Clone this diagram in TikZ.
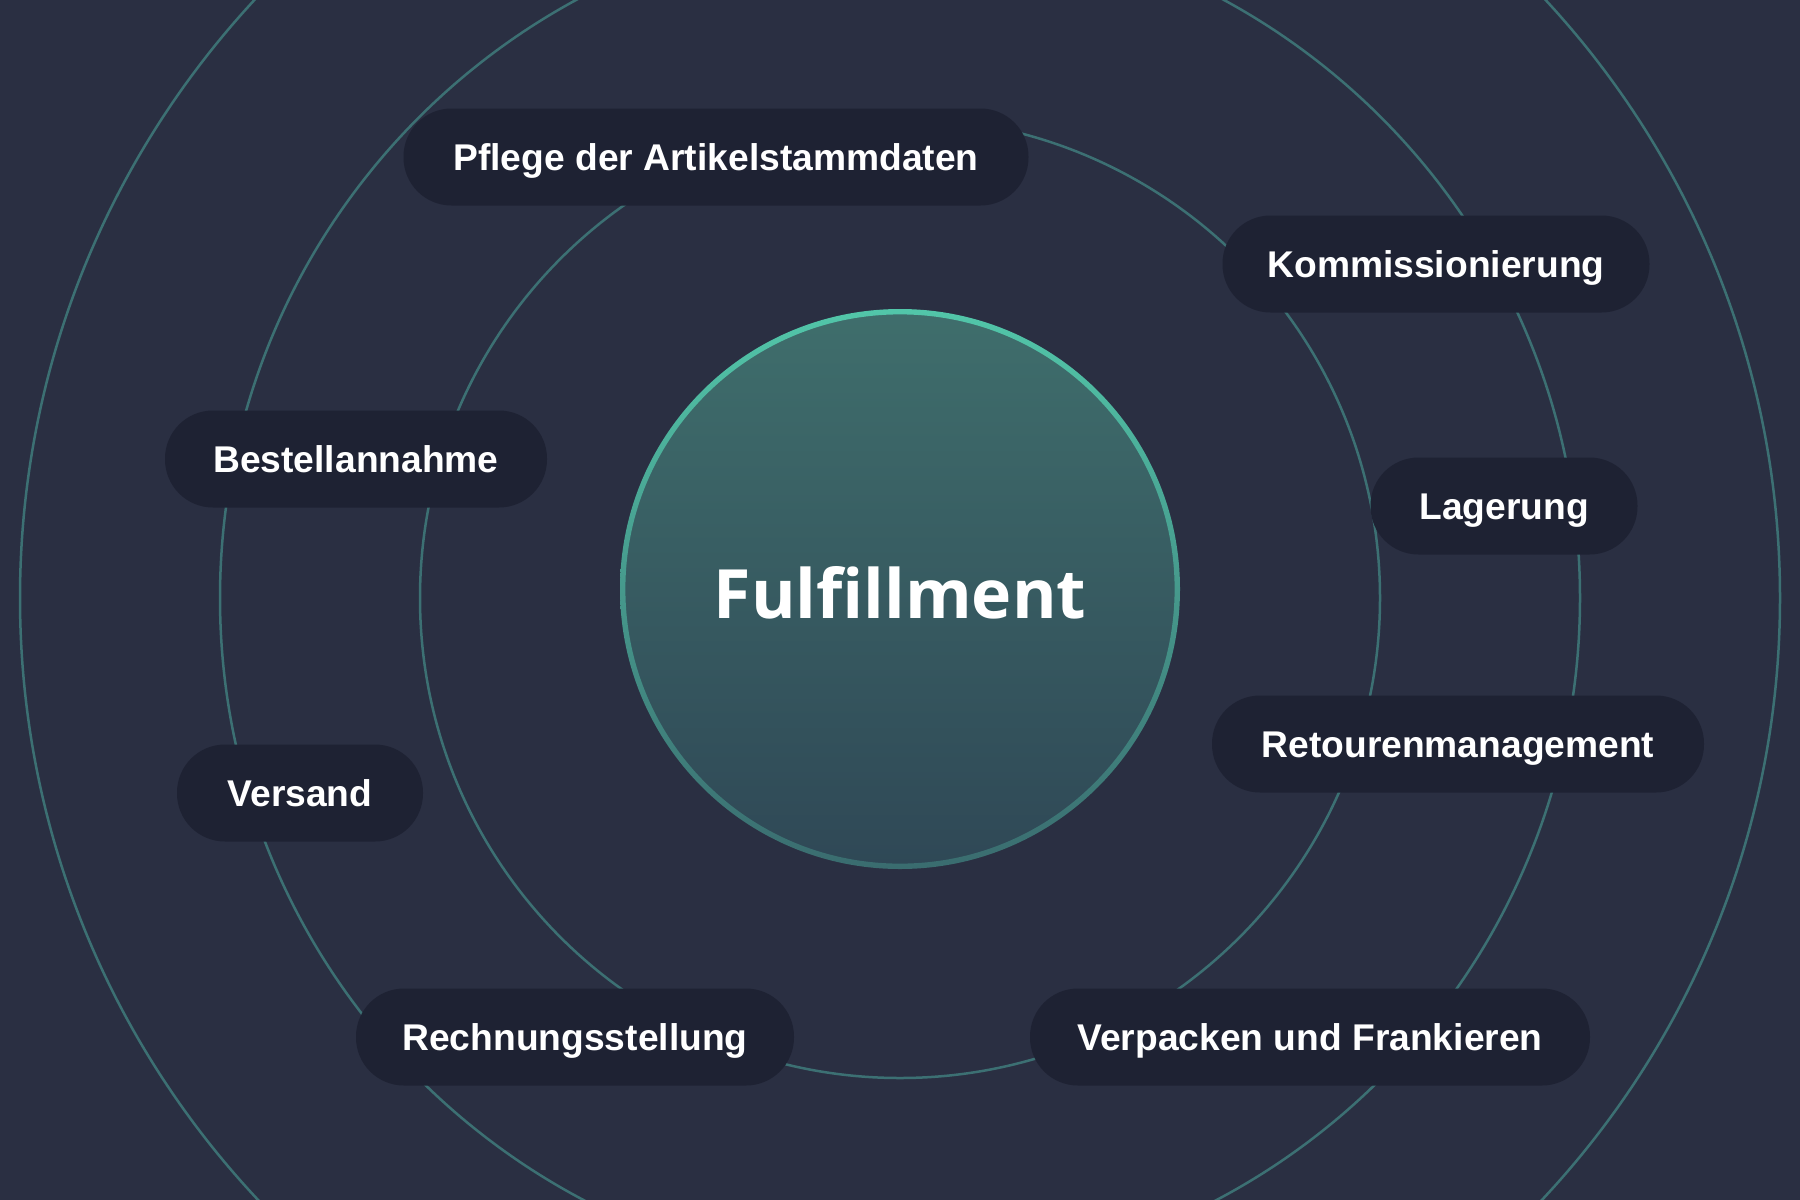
\documentclass[tikz,border=0pt]{standalone}
\usepackage{fontspec}
\setmainfont{Liberation Sans}
\newfontfamily\titlefont{Open Sans}
\definecolor{bgcol}{HTML}{2A2F42}
\definecolor{pillcol}{HTML}{1E2233}
\definecolor{ringcol}{HTML}{3C7073}
\definecolor{coretop}{HTML}{3F6E6C}
\definecolor{corebot}{HTML}{2F4856}
\definecolor{rimtop}{HTML}{52C6A9}
\definecolor{rimbot}{HTML}{3A6C6F}
\begin{document}
\begin{tikzpicture}[x=0.5pt,y=-0.5pt,
  pill/.style={fill=pillcol, rounded corners=24pt, minimum height=48.5pt,
    inner sep=0pt, text=white, text height=13.3pt, text depth=0pt,
    font=\fontsize{18.6}{22}\selectfont\bfseries},
  ring/.style={draw=ringcol, line width=1.25pt}]
\useasboundingbox (0,0) rectangle (1800,1200);
\fill[bgcol] (0,0) rectangle (1800,1200);
\begin{scope}
\clip (0,0) rectangle (1800,1200);
\draw[ring] (900,598) circle (240pt);
\draw[ring] (900,598) circle (340pt);
\draw[ring] (900,598) circle (440pt);
\end{scope}
% centre
\node[circle, minimum size=277pt, inner sep=0pt, top color=coretop, bottom color=corebot,
  text=white, text height=29.5pt, text depth=0pt,
  font=\titlefont\fontsize{34}{40}\selectfont\bfseries] (core) at (900,589) {Fulfillment};
\shade[top color=rimtop, bottom color=rimbot, even odd rule]
  (900,589) circle (140pt) circle (137.3pt);
% pills
\node[pill, minimum width=312.5pt] (pflege) at (716,157) {Pflege der Artikelstammdaten};
\node[pill, minimum width=213.5pt] (komm) at (1436,264) {Kommissionierung};
\node[pill, minimum width=133.5pt] (lager) at (1504,506) {Lagerung};
\node[pill, minimum width=191pt] (bestell) at (356,459) {Bestellannahme};
\node[pill, minimum width=123pt] (versand) at (300,793) {Versand};
\node[pill, minimum width=246pt] (retour) at (1458,744) {Retourenmanagement};
\node[pill, minimum width=219pt] (rechnung) at (575,1037) {Rechnungsstellung};
\node[pill, minimum width=280pt] (verpack) at (1310,1037) {Verpacken und Frankieren};
\end{tikzpicture}
\end{document}
